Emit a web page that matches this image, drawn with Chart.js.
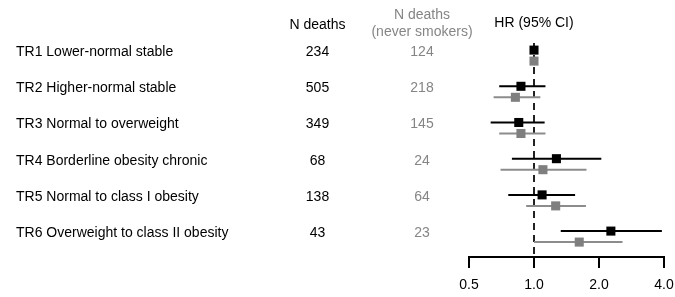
<!DOCTYPE html>
<html>
<head>
<meta charset="utf-8">
<script src="https://cdn.jsdelivr.net/npm/chart.js@4/dist/chart.umd.min.js"></script>
<style>
	html, body { margin: 0; padding: 0; background: #ffffff; overflow: hidden; }
	#wrap { width: 675px; height: 297px; }
</style>
</head>
<body>
<div id="wrap"><canvas id="forest-canvas" width="675" height="297"></canvas></div>
<script>
// Trajectory groups and death counts
var groups = [
	'TR1 Lower-normal stable',
	'TR2 Higher-normal stable',
	'TR3 Normal to overweight',
	'TR4 Borderline obesity chronic',
	'TR5 Normal to class I obesity',
	'TR6 Overweight to class II obesity'
];
var nDeaths      = [234, 505, 349, 68, 138, 43];
var nDeathsNever = [124, 218, 145, 24, 64, 23];

// Hazard ratios, all participants (TR1 is the reference)
var hrAll = [1.0, 0.87, 0.85, 1.27, 1.09, 2.27];
var loAll = [null, 0.69, 0.63, 0.79, 0.76, 1.33];
var hiAll = [null, 1.13, 1.12, 2.05, 1.55, 3.91];

// Hazard ratios, never smokers
var hrNever = [1.0, 0.82, 0.87, 1.10, 1.26, 1.62];
var loNever = [null, 0.65, 0.69, 0.70, 0.92, 1.00];
var hiNever = [null, 1.07, 1.13, 1.75, 1.74, 2.57];

var xTicks = [0.5, 1.0, 2.0, 4.0];
var refHR  = 1.0;

(function () {
	'use strict';

	var FONT      = '"Liberation Sans", Arial, sans-serif';
	var BLACK     = '#000000';
	var GREY      = '#7f7f7f';
	var GREY_LINE = '#8c8c8c';
	var GREY_TEXT = '#858585';

	// row layout on the hidden y scale (row index, reversed)
	var Y_MIN  = -0.348;
	var Y_MAX  = 5.564;
	var OFFSET = 0.152;

	function points(hr, off) {
		return hr.map(function (v, i) {
			return { x: v, y: i + off };
		});
	}

	function ciSegments(lo, hi, off) {
		var out = [];
		for (var i = 0; i < lo.length; i++) {
			if (lo[i] === null) {
				continue;
			}
			out.push({ x: lo[i], y: i + off });
			out.push({ x: hi[i], y: i + off });
			out.push({ x: hi[i], y: null });
		}
		return out;
	}

	// Text columns drawn next to the plot
	var tablePlugin = {
		id: 'forestTable',
		afterDraw: function (chart) {
			var ctx = chart.ctx;
			var y   = chart.scales.y;
			ctx.save();
			ctx.font         = '14px ' + FONT;
			ctx.textBaseline = 'middle';

			ctx.fillStyle = BLACK;
			ctx.textAlign = 'center';
			ctx.fillText('N deaths', 317.5, 25);
			ctx.fillText('HR (95% CI)', 534, 23);

			ctx.fillStyle = GREY_TEXT;
			ctx.fillText('N deaths', 422, 15);
			ctx.fillText('(never smokers)', 422, 32);

			for (var i = 0; i < groups.length; i++) {
				var py = y.getPixelForValue(i) - 3.5;
				ctx.fillStyle = BLACK;
				ctx.textAlign = 'left';
				ctx.fillText(groups[i], 16, py);
				ctx.textAlign = 'center';
				ctx.fillText(String(nDeaths[i]), 317.5, py);
				ctx.fillStyle = GREY_TEXT;
				ctx.fillText(String(nDeathsNever[i]), 422, py);
			}
			ctx.restore();
		}
	};

	var ctx = document.getElementById('forest-canvas');

	var config = {
		type: 'scatter',
		data: {
			datasets: [
				{
					label: 'HR all',
					data: points(hrAll, -OFFSET),
					pointStyle: 'rect',
					pointRadius: 6.4,
					pointBorderWidth: 0,
					backgroundColor: BLACK,
					borderColor: BLACK,
					showLine: false,
					order: 0
				},
				{
					label: 'HR never smokers',
					data: points(hrNever, OFFSET),
					pointStyle: 'rect',
					pointRadius: 6.4,
					pointBorderWidth: 0,
					backgroundColor: GREY,
					borderColor: GREY,
					showLine: false,
					order: 1
				},
				{
					label: 'CI all',
					data: ciSegments(loAll, hiAll, -OFFSET),
					showLine: true,
					spanGaps: false,
					borderColor: BLACK,
					borderWidth: 2,
					pointRadius: 0,
					order: 2
				},
				{
					label: 'CI never smokers',
					data: ciSegments(loNever, hiNever, OFFSET),
					showLine: true,
					spanGaps: false,
					borderColor: GREY_LINE,
					borderWidth: 2,
					pointRadius: 0,
					order: 3
				},
				{
					label: 'Reference',
					data: [{ x: refHR, y: Y_MIN }, { x: refHR, y: Y_MAX }],
					showLine: true,
					borderColor: '#222222',
					borderWidth: 2,
					borderDash: [7, 5],
					pointRadius: 0,
					clip: false,
					order: 4
				}
			]
		},
		options: {
			responsive: false,
			animation: false,
			events: [],
			layout: {
				padding: { left: 469, right: 11, top: 43, bottom: 0 }
			},
			plugins: {
				legend: { display: false },
				tooltip: { enabled: false }
			},
			scales: {
				x: {
					type: 'logarithmic',
					min: 0.5,
					max: 4,
					afterBuildTicks: function (axis) {
						axis.ticks = xTicks.map(function (v) {
							return { value: v };
						});
					},
					afterFit: function (axis) {
						axis.height       = 40;
						axis.paddingLeft  = 0;
						axis.paddingRight = 0;
					},
					ticks: {
						autoSkip: false,
						maxRotation: 0,
						padding: 9,
						color: BLACK,
						font: { family: FONT, size: 14 },
						callback: function (value) {
							return Number(value).toFixed(1);
						}
					},
					grid: {
						drawOnChartArea: false,
						drawTicks: true,
						tickLength: 11,
						lineWidth: 2,
						color: BLACK
					},
					border: { display: true, color: BLACK, width: 2 }
				},
				y: {
					type: 'linear',
					display: false,
					reverse: true,
					min: Y_MIN,
					max: Y_MAX
				}
			}
		},
		plugins: [tablePlugin]
	};

	new Chart(ctx, config);
})();
</script>
</body>
</html>
